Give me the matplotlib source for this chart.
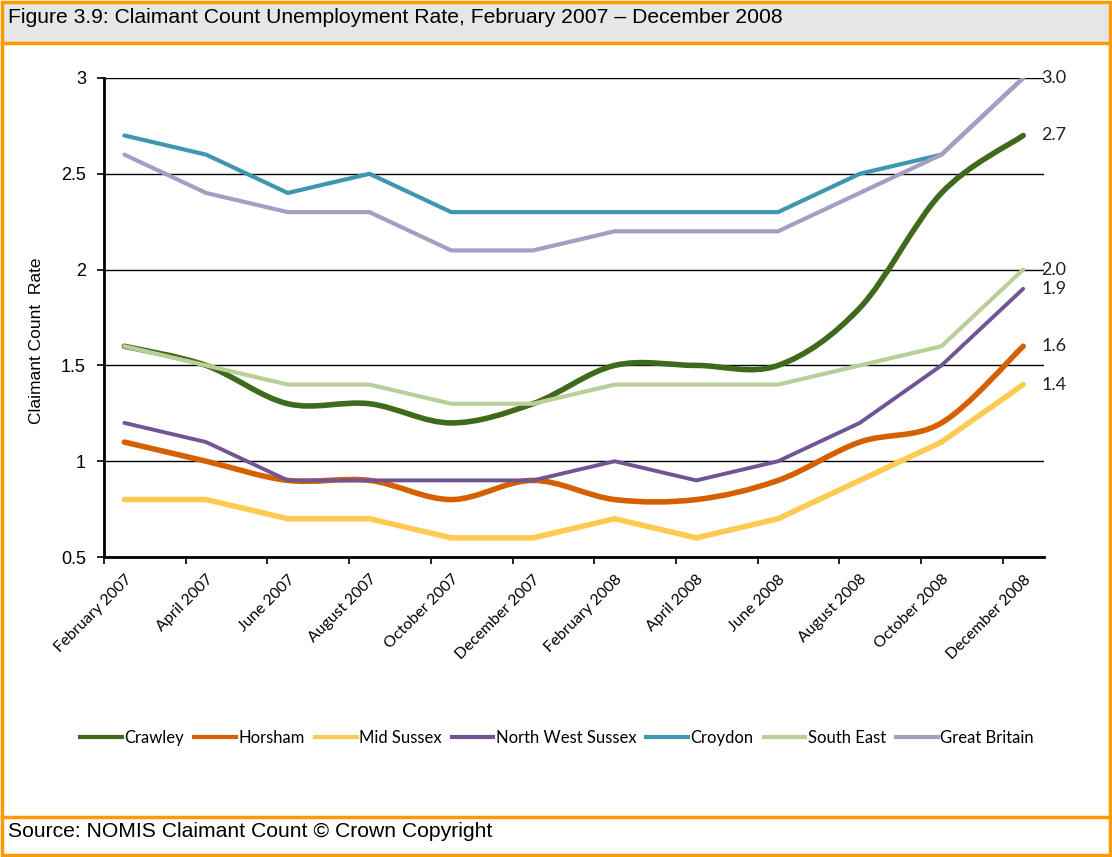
import matplotlib
matplotlib.use("Agg")
import matplotlib.pyplot as plt
from matplotlib.path import Path
from matplotlib.patches import PathPatch, Rectangle
from matplotlib.lines import Line2D

# month index from February 2007 (0) to December 2008 (22)
months = [0, 2, 4, 6, 8, 10, 12, 14, 16, 18, 20, 22]
month_labels = ['February 2007', 'April 2007', 'June 2007', 'August 2007',
                'October 2007', 'December 2007', 'February 2008', 'April 2008',
                'June 2008', 'August 2008', 'October 2008', 'December 2008']

crawley = [1.6, 1.5, 1.3, 1.3, 1.2, 1.3, 1.5, 1.5, 1.5, 1.8, 2.4, 2.7]
horsham = [1.1, 1.0, 0.9, 0.9, 0.8, 0.9, 0.8, 0.8, 0.9, 1.1, 1.2, 1.6]
mid_sussex = [0.8, 0.8, 0.7, 0.7, 0.6, 0.6, 0.7, 0.6, 0.7, 0.9, 1.1, 1.4]
nw_sussex = [1.2, 1.1, 0.9, 0.9, 0.9, 0.9, 1.0, 0.9, 1.0, 1.2, 1.5, 1.9]
croydon = [2.7, 2.6, 2.4, 2.5, 2.3, 2.3, 2.3, 2.3, 2.3, 2.5, 2.6, 3.0]
south_east = [1.6, 1.5, 1.4, 1.4, 1.3, 1.3, 1.4, 1.4, 1.4, 1.5, 1.6, 2.0]
great_britain = [2.6, 2.4, 2.3, 2.3, 2.1, 2.1, 2.2, 2.2, 2.2, 2.4, 2.6, 3.0]

# name, values, colour, width, smoothed, end label
series = [
    ('Crawley', crawley, '#3e6a1b', 4.0, True, '2.7'),
    ('Horsham', horsham, '#d46000', 4.0, True, '1.6'),
    ('Mid Sussex', mid_sussex, '#fecb52', 4.0, False, '1.4'),
    ('North West Sussex', nw_sussex, '#6f5594', 2.8, False, '1.9'),
    ('Croydon', croydon, '#3f97af', 3.0, False, None),
    ('South East', south_east, '#b8cf97', 3.0, False, '2.0'),
    ('Great Britain', great_britain, '#a79cc2', 3.0, False, '3.0'),
]

ORANGE = '#ff9900'


def smooth_path(xs, ys):
    # bezier through the points, like a smoothed spreadsheet line
    verts = [(xs[0], ys[0])]
    codes = [Path.MOVETO]
    n = len(xs)
    for i in range(n - 1):
        px, py = (xs[i - 1], ys[i - 1]) if i > 0 else (xs[i], ys[i])
        nx, ny = (xs[i + 2], ys[i + 2]) if i + 2 < n else (xs[i + 1], ys[i + 1])
        c1 = (xs[i] + (xs[i + 1] - px) / 6.0, ys[i] + (ys[i + 1] - py) / 6.0)
        c2 = (xs[i + 1] - (nx - xs[i]) / 6.0, ys[i + 1] - (ny - ys[i]) / 6.0)
        verts += [c1, c2, (xs[i + 1], ys[i + 1])]
        codes += [Path.CURVE4] * 3
    return Path(verts, codes)


fig = plt.figure(figsize=(11.12, 8.57), dpi=100)
ax = fig.add_axes([0.0935, 0.350, 0.845, 0.559])

handles = []
for k, (name, vals, col, lw, smooth, lab) in enumerate(series):
    if smooth:
        patch = PathPatch(smooth_path(months, vals), fill=False, edgecolor=col,
                          lw=lw, capstyle='round', joinstyle='round', zorder=3 + k)
        ax.add_patch(patch)
    else:
        ax.plot(months, vals, color=col, lw=lw, solid_capstyle='round',
                solid_joinstyle='miter', zorder=3 + k)
    handles.append(Line2D([], [], color=col, lw=3.0))
    if lab:
        ax.annotate(lab, (months[-1], vals[-1]), xytext=(13, 0),
                    textcoords='offset points', va='center', ha='left',
                    fontsize=13, family='Lato', color='#222222',
                    annotation_clip=False)

ax.set_xlim(-0.5, 22.5)
ax.set_ylim(0.5, 3.0)
ax.set_yticks([0.5, 1, 1.5, 2, 2.5, 3])
ax.set_yticklabels(['0.5', '1', '1.5', '2', '2.5', '3'], family='Liberation Sans', fontsize=13)
ax.set_xticks(months)
ax.set_xticklabels(month_labels, rotation=45, ha='right', va='top',
                   rotation_mode='anchor', family='Lato', fontsize=11.3)
ax.set_xticks([m - 0.5 for m in months], minor=True)
ax.tick_params(axis='x', which='major', length=0, pad=11)
ax.tick_params(axis='x', which='minor', length=5, width=1.2, direction='out')
ax.tick_params(axis='y', length=5, width=1.2, direction='out', pad=8)

ax.yaxis.grid(True, color='black', lw=1.0)
ax.set_axisbelow(True)
for s in ['top', 'right']:
    ax.spines[s].set_visible(False)
ax.spines['left'].set_linewidth(2)
ax.spines['bottom'].set_linewidth(2)
ax.spines['bottom'].set_zorder(20)

ax.set_ylabel('Claimant Count  Rate', family='Liberation Sans', fontsize=12.5)
ax.yaxis.set_label_coords(-0.064, 0.451)

fig.legend(handles, [s[0] for s in series], loc='center', bbox_to_anchor=(0.501, 0.139),
           ncol=7, frameon=False, handlelength=2.5, handletextpad=0.15,
           columnspacing=0.6, prop={'family': 'Lato', 'size': 12})

# frame: title band, source band and orange border
fig.patches.append(Rectangle((0.002, 0.950), 0.996, 0.048, transform=fig.transFigure,
                             facecolor='#e6e6e6', edgecolor='none', zorder=0))
fig.add_artist(Line2D([0.002, 0.998], [0.950, 0.950], color=ORANGE, lw=2.5,
                      transform=fig.transFigure))
fig.add_artist(Line2D([0.002, 0.998], [0.047, 0.047], color=ORANGE, lw=2.5,
                      transform=fig.transFigure))
fig.patches.append(Rectangle((0.002, 0.002), 0.996, 0.996, transform=fig.transFigure,
                             facecolor='none', edgecolor=ORANGE, lw=2.5, zorder=5))

fig.text(0.007, 0.980, 'Figure 3.9: Claimant Count Unemployment Rate, February 2007 \u2013 December 2008',
         family='Liberation Sans', fontsize=15.2, va='center', ha='left')
fig.text(0.007, 0.030, 'Source: NOMIS Claimant Count \u00a9 Crown Copyright',
         family='Liberation Sans', fontsize=15.2, va='center', ha='left')

fig.savefig('out.png', dpi=100)
